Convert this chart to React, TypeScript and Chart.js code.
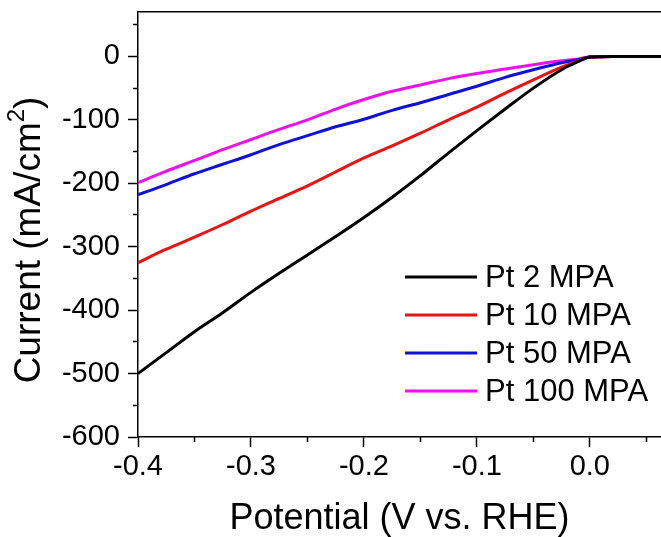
import { useEffect, useRef } from "react";
import { Chart, registerables } from "chart.js";

Chart.register(...registerables);

const FONT = "'Liberation Sans', Arial, Helvetica, sans-serif";

// Potential (V vs. RHE)
const potential = [
  -0.4, -0.375, -0.35, -0.325, -0.3, -0.275, -0.25, -0.225, -0.2, -0.175, -0.15,
  -0.125, -0.1, -0.075, -0.05, -0.025, -0.01, 0, 0.02, 0.04, 0.065,
];
// Current (mA/cm2)
const pt2 = [
  -500, -467, -434, -404, -372, -342, -313, -284, -254, -222, -188, -152, -117, -83,
  -50, -21, -8, -1, 0, 0, 0,
];
const pt10 = [
  -325, -304, -285, -265, -244, -224, -204, -182, -160, -141, -121, -100, -80, -58,
  -37, -17, -7, -1, 0, 0, 0,
];
const pt50 = [
  -218, -202, -185, -170, -155, -139, -125, -111, -99, -85, -73, -60, -47, -33, -21,
  -10, -5, -1, 0, 0, 0,
];
const pt100 = [
  -199, -181, -164, -147, -131, -115, -100, -83, -68, -55, -45, -35, -27, -20, -13,
  -7, -4, -1, 0, 0, 0,
];

const seriesLabels = ["Pt 2 MPA", "Pt 10 MPA", "Pt 50 MPA", "Pt 100 MPA"];
const seriesColors = ["#000000", "#ee1111", "#1010dd", "#ee11ee"];
const seriesValues = [pt2, pt10, pt50, pt100];

const xTicks = [-0.4, -0.3, -0.2, -0.1, 0.0];
const xMinorTicks = [-0.35, -0.25, -0.15, -0.05, 0.05];
const yTicks = [-600, -500, -400, -300, -200, -100, 0];
const yMinorTicks = [-550, -450, -350, -250, -150, -50, 50];

const X_MIN = -0.4;
const X_MAX = 0.063;
const Y_MIN = -600;
const Y_MAX = 70;

const xTitle = "Potential (V vs. RHE)";
const yTitleMain = "Current (mA/cm";
const yTitleSup = "2";
const yTitleEnd = ")";

const LEGEND = { lineX0: 405, lineX1: 477, textX: 485, top: 277, step: 38 };
const Y_TITLE = { x: 30, y: 240, size: 37, supSize: 24, supRise: 13 };

const insideLegend = {
  id: "insideLegend",
  afterDatasetsDraw(chart: any) {
    const ctx = chart.ctx;
    chart.data.datasets.forEach((ds: any, i: number) => {
      const y = LEGEND.top + i * LEGEND.step;
      ctx.save();
      ctx.strokeStyle = ds.borderColor;
      ctx.lineWidth = 3;
      ctx.beginPath();
      ctx.moveTo(LEGEND.lineX0, y);
      ctx.lineTo(LEGEND.lineX1, y);
      ctx.stroke();
      ctx.fillStyle = "#000";
      ctx.font = `31px ${FONT}`;
      ctx.textAlign = "left";
      ctx.textBaseline = "middle";
      ctx.fillText(ds.label, LEGEND.textX, y + 1);
      ctx.restore();
    });
  },
};

// y-axis title with a true superscript
const yAxisTitle = {
  id: "yAxisTitle",
  afterDraw(chart: any) {
    const ctx = chart.ctx;
    ctx.save();
    ctx.fillStyle = "#000";
    ctx.textBaseline = "middle";
    ctx.textAlign = "left";
    const mainFont = `${Y_TITLE.size}px ${FONT}`;
    const supFont = `${Y_TITLE.supSize}px ${FONT}`;
    ctx.font = mainFont;
    const w1 = ctx.measureText(yTitleMain).width;
    const w3 = ctx.measureText(yTitleEnd).width;
    ctx.font = supFont;
    const w2 = ctx.measureText(yTitleSup).width;
    const total = w1 + w2 + w3;
    ctx.translate(Y_TITLE.x, Y_TITLE.y);
    ctx.rotate(-Math.PI / 2);
    let cx = -total / 2;
    ctx.font = mainFont;
    ctx.fillText(yTitleMain, cx, 0);
    cx += w1;
    ctx.font = supFont;
    ctx.fillText(yTitleSup, cx, -Y_TITLE.supRise);
    cx += w2;
    ctx.font = mainFont;
    ctx.fillText(yTitleEnd, cx, 0);
    ctx.restore();
  },
};

const noPad = (s: any) => {
  s.paddingTop = 0;
  s.paddingBottom = 0;
};

export default function App() {
  const canvasRef = useRef<HTMLCanvasElement | null>(null);

  useEffect(() => {
    if (!canvasRef.current) return;
    const tickFont = { family: FONT, size: 29 };
    const titleFont = { family: FONT, size: 36, lineHeight: 1 };
    const chart = new Chart(canvasRef.current, {
      type: "line",
      data: {
        datasets: seriesValues.map((vals, i) => ({
          label: seriesLabels[i],
          data: potential.map((x, j) => ({ x, y: vals[j] })),
          borderColor: seriesColors[i],
          backgroundColor: seriesColors[i],
          borderWidth: 3,
          pointRadius: 0,
          cubicInterpolationMode: "monotone" as const,
          xAxisID: "x",
          yAxisID: "y",
        })),
      },
      options: {
        responsive: false,
        animation: false,
        devicePixelRatio: 1,
        layout: { padding: { top: 12, left: 0, right: 0, bottom: 0 } },
        plugins: { legend: { display: false }, tooltip: { enabled: false } },
        scales: {
          x: {
            type: "linear",
            position: "bottom",
            weight: 1,
            min: X_MIN,
            max: X_MAX,
            afterBuildTicks: (s: any) => {
              s.ticks = xTicks.map((v) => ({ value: v }));
            },
            afterFit: (s: any) => {
              s.height = 100;
            },
            ticks: {
              font: tickFont,
              color: "#000",
              padding: 3,
              maxRotation: 0,
              autoSkip: false,
              callback: (v: any) => (Math.abs(Number(v)) < 1e-9 ? 0 : Number(v)).toFixed(1),
            },
            grid: {
              drawOnChartArea: false,
              drawTicks: true,
              tickLength: 10,
              tickWidth: 1.5,
              tickColor: "#000",
            },
            border: { display: true, color: "#000", width: 1.5 },
            title: {
              display: true,
              text: xTitle,
              font: titleFont,
              color: "#000",
              padding: 0,
            },
          },
          xMinor: {
            type: "linear",
            position: "bottom",
            weight: 0,
            min: X_MIN,
            max: X_MAX,
            afterBuildTicks: (s: any) => {
              s.ticks = xMinorTicks.map((v) => ({ value: v }));
            },
            afterFit: (s: any) => {
              s.height = 0;
            },
            ticks: { display: false },
            grid: {
              drawOnChartArea: false,
              drawTicks: true,
              tickLength: 5,
              tickWidth: 1.5,
              tickColor: "#000",
            },
            border: { display: false },
          },
          xTop: {
            type: "linear",
            position: "top",
            min: X_MIN,
            max: X_MAX,
            afterFit: (s: any) => {
              s.height = 0;
            },
            ticks: { display: false },
            grid: { drawOnChartArea: false, drawTicks: false },
            border: { display: true, color: "#000", width: 1.5 },
          },
          y: {
            type: "linear",
            position: "left",
            weight: 1,
            min: Y_MIN,
            max: Y_MAX,
            afterBuildTicks: (s: any) => {
              s.ticks = yTicks.map((v) => ({ value: v }));
            },
            afterFit: (s: any) => {
              s.width = 138;
              noPad(s);
            },
            ticks: {
              font: tickFont,
              color: "#000",
              padding: 8,
              autoSkip: false,
              callback: (v: any) => String(v),
            },
            grid: {
              drawOnChartArea: false,
              drawTicks: true,
              tickLength: 10,
              tickWidth: 1.5,
              tickColor: "#000",
            },
            border: { display: true, color: "#000", width: 1.5 },
            title: { display: false },
          },
          yMinor: {
            type: "linear",
            position: "left",
            weight: 0,
            min: Y_MIN,
            max: Y_MAX,
            afterBuildTicks: (s: any) => {
              s.ticks = yMinorTicks.map((v) => ({ value: v }));
            },
            afterFit: (s: any) => {
              s.width = 0;
              noPad(s);
            },
            ticks: { display: false },
            grid: {
              drawOnChartArea: false,
              drawTicks: true,
              tickLength: 5,
              tickWidth: 1.5,
              tickColor: "#000",
            },
            border: { display: false },
          },
        },
      } as any,
      plugins: [insideLegend, yAxisTitle],
    });
    return () => chart.destroy();
  }, []);

  return (
    <div style={{ position: "absolute", left: 0, top: 0, width: 661, height: 537, overflow: "hidden", background: "#fff" }}>
      <canvas ref={canvasRef} width={661} height={537} style={{ display: "block" }} />
    </div>
  );
}
